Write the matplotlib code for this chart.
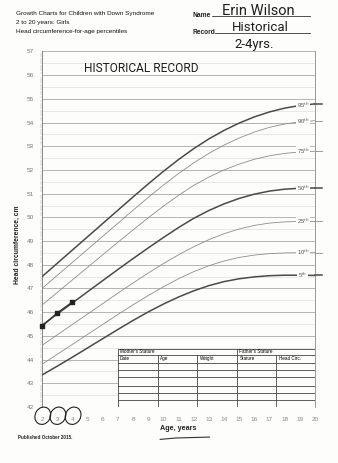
import matplotlib.pyplot as plt
import numpy as np
from matplotlib.patches import Ellipse, Rectangle

ages = np.arange(2, 21)
p95 = [47.5, 48.06, 48.62, 49.18, 49.74, 50.3, 50.86, 51.41, 51.94, 52.44, 52.9, 53.31, 53.67, 53.98, 54.24, 54.45, 54.61, 54.72, 54.79]
p90 = [47.0, 47.55, 48.1, 48.65, 49.2, 49.75, 50.3, 50.84, 51.36, 51.85, 52.3, 52.7, 53.05, 53.35, 53.6, 53.8, 53.94, 54.03, 54.08]
p75 = [46.3, 46.83, 47.36, 47.89, 48.42, 48.95, 49.47, 49.98, 50.47, 50.93, 51.35, 51.7, 52.0, 52.25, 52.45, 52.6, 52.7, 52.76, 52.79]
p50 = [45.45, 45.92, 46.39, 46.86, 47.33, 47.8, 48.26, 48.71, 49.15, 49.57, 49.96, 50.29, 50.57, 50.8, 50.98, 51.11, 51.19, 51.23, 51.24]
p25 = [44.6, 45.04, 45.48, 45.92, 46.36, 46.8, 47.23, 47.65, 48.05, 48.42, 48.76, 49.06, 49.31, 49.51, 49.66, 49.76, 49.81, 49.83, 49.83]
p10 = [43.8, 44.22, 44.64, 45.06, 45.48, 45.9, 46.31, 46.7, 47.07, 47.41, 47.71, 47.96, 48.16, 48.31, 48.41, 48.47, 48.5, 48.51, 48.51]
p05 = [43.35, 43.72, 44.1, 44.49, 44.88, 45.27, 45.65, 46.01, 46.34, 46.64, 46.9, 47.12, 47.29, 47.41, 47.49, 47.54, 47.56, 47.56, 47.55]
curve_names = ["95", "90", "75", "50", "25", "10", "5"]
curve_vals = [p95, p90, p75, p50, p25, p10, p05]

visit_age = [2, 3, 4]
visit_hc = [45.4, 45.97, 46.43]

table_head = ["Date", "Age", "Weight", "Stature", "Head Circ."]

hand = ["Roboto", "DejaVu Sans"]
small = ["Liberation Sans", "DejaVu Sans"]
paper = "#fdfdfb"
ink = "#1e1e1e"

fig = plt.figure(figsize=(3.38, 4.63), dpi=100)
fig.patch.set_facecolor(paper)
ax = fig.add_axes([0.1243, 0.121, 0.8077, 0.7678])
ax.set_facecolor(paper)
ax.set_xlim(2, 20)
ax.set_ylim(42, 57)

# grid: solid at each cm, faint at half cm
for v in np.arange(43, 57.01, 1):
    ax.axhline(v, color="#b4b4b4", lw=0.7, zorder=1)
for v in np.arange(42.5, 57, 1):
    ax.axhline(v, color="#dedede", lw=0.5, zorder=1)

for s in ["top", "bottom"]:
    ax.spines[s].set_visible(False)
ax.spines["left"].set_color("#777777")
ax.spines["left"].set_linewidth(0.6)
ax.spines["right"].set_color("#999999")
ax.spines["right"].set_linewidth(0.7)
ax.axhline(42, color="#555555", lw=0.7, zorder=2)

ax.set_yticks(np.arange(42, 58))
ax.set_yticks(np.arange(42, 57.01, 0.1), minor=True)
ax.set_xticks(np.arange(2, 21))
ax.tick_params(axis="y", which="major", length=0, labelsize=4.6, labelcolor="#777777", pad=6)
ax.tick_params(axis="y", which="minor", length=1.5, width=0.3, color="#999999")
ax.tick_params(axis="x", length=0, labelsize=4.6, labelcolor="#888888", pad=7)
for lab in ax.get_yticklabels() + ax.get_xticklabels():
    lab.set_family(small)

# percentile curves with labels near the right edge
for name, vals in zip(curve_names, curve_vals):
    heavy = name in ("95", "50", "5")
    col = "#4a4a4a" if heavy else "#8c8c8c"
    lw = 1.1 if heavy else 0.6
    ax.plot(ages, vals, color=col, lw=lw, zorder=3, solid_capstyle="butt")
    ax.plot([20, 20.45], [vals[-1], vals[-1]], color=col, lw=lw, clip_on=False, zorder=3)
    ax.text(19.2, np.interp(19.2, ages, vals), name + "$^{th}$", fontsize=4.2, color="#555555",
            ha="center", va="center", family=small, zorder=4,
            bbox=dict(boxstyle="square,pad=0.15", fc=paper, ec="none"))

# measurements
ax.plot(visit_age, visit_hc, color="#333333", lw=0.9, zorder=5)
ax.scatter(visit_age, visit_hc, s=6, marker="s", color="#222222", zorder=6, clip_on=False)

# parents' stature table
rows = [44.45, 44.2, 43.85, 43.55, 43.25, 42.9, 42.6, 42.3, 42.0]
cols = [7, 9.62, 12.24, 14.86, 17.45, 20]
ax.add_patch(Rectangle((7, 42), 13, rows[0] - 42, fc=paper, ec="none", zorder=6))
for r in rows:
    ax.plot([7, 20], [r, r], color="#444444", lw=0.6, zorder=7)
for c in cols:
    top = rows[0] if c in (7, 14.86, 20) else rows[1]
    ax.plot([c, c], [42, top], color="#444444", lw=0.6, zorder=7)
ax.text(7.15, (rows[0] + rows[1]) / 2, "Mother's Stature", fontsize=3.3, va="center", family=small, zorder=8)
ax.text(15.0, (rows[0] + rows[1]) / 2, "Father's Stature", fontsize=3.3, va="center", family=small, zorder=8)
for c, h in zip(cols[:-1], table_head):
    ax.text(c + 0.15, (rows[1] + rows[2]) / 2, h, fontsize=3.3, va="center", family=small, zorder=8)

# hand-drawn rings around ages 2-4
for a in visit_age:
    ax.add_patch(Ellipse((a + 0.05, 41.63), 1.05, 0.72, angle=10, fill=False, ec="#222222", lw=0.8,
                         clip_on=False, zorder=8))

ax.text(4.8, 56.3, "HISTORICAL RECORD", fontsize=8.6, color=ink, family=hand,
        va="center", zorder=4)

fig.text(0.047, 0.968, "Growth Charts for Children with Down Syndrome", fontsize=4.6, family=small, color="#111111")
fig.text(0.047, 0.949, "2 to 20 years: Girls", fontsize=4.6, family=small, color="#111111")
fig.text(0.047, 0.929, "Head circumference-for-age percentiles", fontsize=4.6, family=small, color="#111111")
fig.text(0.571, 0.963, "Name", fontsize=4.8, family=small, weight="bold", color="#222222")
fig.text(0.571, 0.927, "Record", fontsize=4.8, family=small, weight="bold", color="#222222")
fig.add_artist(plt.Line2D([0.627, 0.917], [0.965, 0.965], color="#333333", lw=0.6))
fig.add_artist(plt.Line2D([0.636, 0.917], [0.929, 0.929], color="#333333", lw=0.6))
fig.text(0.657, 0.968, "Erin Wilson", fontsize=10.5, family=hand, color=ink)
fig.text(0.686, 0.932, "Historical", fontsize=9.5, family=hand, color=ink)
fig.text(0.695, 0.896, "2-4yrs.", fontsize=9.5, family=hand, color=ink)

fig.text(0.052, 0.471, "Head circumference, cm", rotation=90, fontsize=4.9, weight="bold",
         family=small, color="#222222", ha="center", va="center")
fig.text(0.527, 0.074, "Age, years", fontsize=5.2, weight="bold", family=small, color="#222222",
         ha="center", va="center")
fig.add_artist(plt.Line2D([0.474, 0.52, 0.62], [0.051, 0.054, 0.056], color="#333333", lw=0.8))
fig.text(0.053, 0.056, "Published October 2015.", fontsize=3.3, weight="bold", family=small, color="#222222",
         va="center")

fig.savefig("out.png", dpi=100)
